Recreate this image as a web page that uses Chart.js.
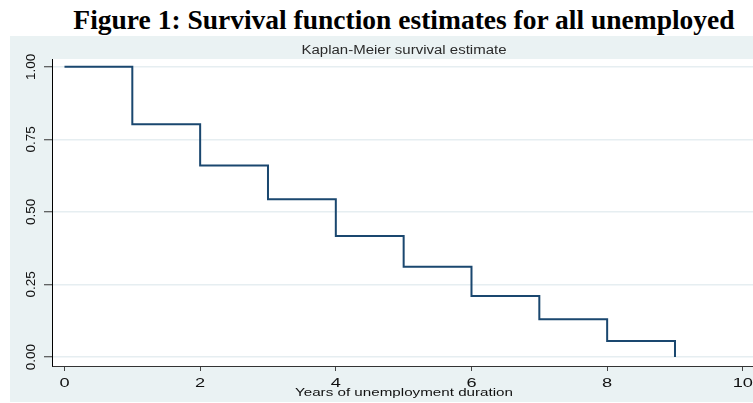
<!DOCTYPE html>
<html><head><meta charset="utf-8">
<script src="https://cdn.jsdelivr.net/npm/chart.js@4/dist/chart.umd.min.js"></script>
<style>
html,body{margin:0;padding:0;background:#fff;width:753px;height:403px;overflow:hidden}
#title{position:absolute;left:47px;width:714px;top:6px;text-align:center;font-family:"Liberation Serif",serif;font-weight:bold;font-size:27.5px;line-height:27px;color:#000;white-space:nowrap}
#wrap{position:absolute;left:10px;top:36px;width:743px;height:366px}
canvas{display:block}
</style></head><body>
<div id="title">Figure 1: Survival function estimates for all unemployed</div>
<div id="wrap"><canvas id="c" width="743" height="366"></canvas></div>
<script>
const chartTitle = 'Kaplan-Meier survival estimate';
const xAxisTitle = 'Years of unemployment duration';
const years = [0, 1, 2, 3, 4, 5, 6, 7, 8, 9];
const survival = [1.00, 0.802, 0.660, 0.544, 0.417, 0.311, 0.210, 0.130, 0.055, 0.000];
const xTickValues = [0, 2, 4, 6, 8, 10];
const xTickLabels = ['0', '2', '4', '6', '8', '10'];
const yTickValues = [0, 0.25, 0.5, 0.75, 1];
const yTickLabels = ['0.00', '0.25', '0.50', '0.75', '1.00'];

function drawStretched(ctx, text, x, y, size, sx, align, rot, color) {
  ctx.save();
  ctx.translate(x, y);
  if (rot) ctx.rotate(rot);
  ctx.scale(sx, 1);
  ctx.font = size + 'px "Liberation Sans", Arial, sans-serif';
  ctx.textAlign = align;
  ctx.textBaseline = 'alphabetic';
  ctx.fillStyle = color || '#111';
  ctx.fillText(text, 0, 0);
  ctx.restore();
}

const bgPlugin = {
  id: 'bg',
  beforeDraw(chart) {
    const {ctx, chartArea: a} = chart;
    ctx.save();
    ctx.fillStyle = '#EAF2F3';
    ctx.fillRect(0, 0, chart.width, chart.height);
    ctx.fillStyle = '#FFFFFF';
    ctx.fillRect(a.left, a.top, a.right - a.left, a.bottom - a.top);
    ctx.restore();
  }
};

const textPlugin = {
  id: 'texts',
  afterDraw(chart) {
    const {ctx, chartArea: a, scales} = chart;
    const cx = (a.left + a.right) / 2 + 1.5;
    drawStretched(ctx, chartTitle, cx, a.top - 5.3, 12, 1.25, 'center', 0, '#2a2a2a');
    const xs = scales.x;
    xs.ticks.forEach((t) => {
      drawStretched(ctx, xTickLabels[xTickValues.indexOf(t.value)], xs.getPixelForValue(t.value), a.bottom + 21, 13, 1.4, 'center', 0, '#111');
    });
    drawStretched(ctx, xAxisTitle, cx, a.bottom + 29.5, 11, 1.38, 'center', 0, '#111');
    const ys = scales.y;
    ys.ticks.forEach((t) => {
      drawStretched(ctx, yTickLabels[yTickValues.indexOf(t.value)], a.left - 17.2, ys.getPixelForValue(t.value), 13.5, 1, 'center', -Math.PI / 2, '#111');
    });
  }
};

new Chart(document.getElementById('c'), {
  type: 'line',
  data: {
    datasets: [{
      label: 'Survival',
      data: years.map((x, i) => ({x: x, y: survival[i]})),
      stepped: 'before',
      borderColor: '#1A476F',
      borderWidth: 2,
      pointRadius: 0,
      fill: false,
      borderJoinStyle: 'miter'
    }]
  },
  options: {
    responsive: false,
    animation: false,
    devicePixelRatio: 1,
    layout: {padding: {top: 23, left: 0, right: 0, bottom: 0}},
    plugins: {legend: {display: false}, tooltip: {enabled: false}, title: {display: false}},
    scales: {
      x: {
        type: 'linear', min: -0.184, max: 10.15,
        afterBuildTicks: (s) => { s.ticks = xTickValues.map(v => ({value: v})); },
        afterFit: (s) => { s.height = 36; },
        ticks: {display: false},
        grid: {display: true, drawOnChartArea: false, drawTicks: true, tickLength: 5, tickColor: '#444', tickWidth: 1},
        border: {display: true, color: '#333', width: 1}
      },
      y: {
        type: 'linear', min: -0.031, max: 1.027,
        afterBuildTicks: (s) => { s.ticks = yTickValues.map(v => ({value: v})); },
        afterFit: (s) => { s.width = 42; },
        ticks: {display: false},
        grid: {display: true, drawOnChartArea: true, color: '#E6EEF1', lineWidth: 1.5, drawTicks: true, tickLength: 8, tickColor: '#333', tickWidth: 1},
        border: {display: true, color: '#000', width: 1}
      }
    }
  },
  plugins: [bgPlugin, textPlugin]
});
</script>
</body></html>
